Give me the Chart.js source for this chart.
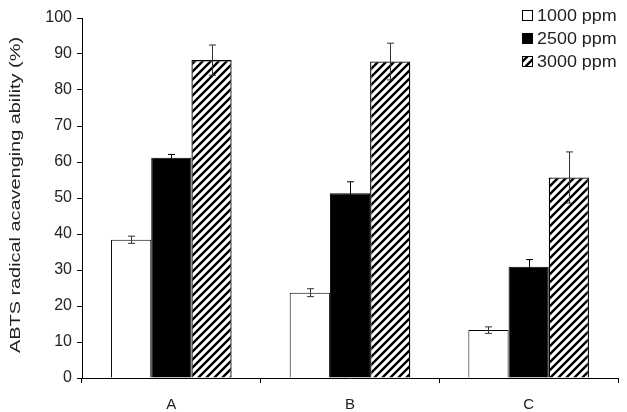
<!DOCTYPE html>
<html>
<head>
<meta charset="utf-8">
<script src="https://cdn.jsdelivr.net/npm/chart.js@4.4.0/dist/chart.umd.min.js"></script>
<style>
  html, body { margin: 0; padding: 0; background: #fff; }
  #wrap { width: 627px; height: 412px; }
</style>
</head>
<body>
<div id="wrap"><canvas id="abtsChart" width="627" height="412"></canvas></div>
<script>
// ========== DATA ==========
const categories = ['A', 'B', 'C'];
const seriesLabels = ['1000 ppm', '2500 ppm', '3000 ppm'];
const values1000 = [38.4, 23.7, 13.3];
const values2500 = [61.2, 51.3, 30.9];
const values3000 = [88.3, 87.9, 55.7];
const err1000 = [1.0, 1.1, 0.9];
const err2500 = [0.9, 3.2, 2.0];
const err3000 = [4.2, 5.1, 7.1];
const yTicks = [0, 10, 20, 30, 40, 50, 60, 70, 80, 90, 100];
const yTitle = 'ABTS radical acavenging ability (%)';

const FONT = '"Liberation Sans", Arial, sans-serif';

// hatch pattern for the 3000 ppm bars
function makeHatch() {
    const c = document.createElement('canvas');
    const s = 8;
    c.width = s; c.height = s;
    const g = c.getContext('2d');
    g.fillStyle = '#fff';
    g.fillRect(0, 0, s, s);
    g.strokeStyle = '#000';
    g.lineWidth = 2.4;
    g.beginPath();
    g.moveTo(-2, s + 2); g.lineTo(s + 2, -2);
    g.moveTo(-2, 2); g.lineTo(2, -2);
    g.moveTo(s - 2, s + 2); g.lineTo(s + 2, s - 2);
    g.stroke();
    return g.createPattern(c, 'repeat');
}
const hatch = makeHatch();

// ========== PLUGINS ==========
const errorBars = {
    id: 'errorBars',
    afterDatasetsDraw(chart) {
        const ctx = chart.ctx;
        const y = chart.scales.y;
        ctx.save();
        ctx.lineWidth = 1;
        chart.data.datasets.forEach((ds, i) => {
            const meta = chart.getDatasetMeta(i);
            meta.data.forEach((bar, j) => {
                const v = ds.data[j], e = ds.errors[j];
                const top = y.getPixelForValue(v + e);
                const bot = y.getPixelForValue(v - e);
                const x = Math.round(bar.x) + 0.5;
                ctx.strokeStyle = i === 1 ? '#000' : '#333';
                ctx.beginPath();
                ctx.moveTo(x, top); ctx.lineTo(x, bot);
                ctx.moveTo(x - 3.5, top); ctx.lineTo(x + 3.5, top);
                ctx.moveTo(x - 3.5, bot); ctx.lineTo(x + 3.5, bot);
                ctx.stroke();
            });
        });
        ctx.restore();
    }
};

// rotated y title, stretched along its length like the original
const yTitlePlugin = {
    id: 'yTitlePlugin',
    afterDraw(chart) {
        const ctx = chart.ctx;
        ctx.save();
        ctx.font = '14px ' + FONT;
        ctx.fillStyle = '#222';
        ctx.textAlign = 'center';
        ctx.textBaseline = 'middle';
        const w = ctx.measureText(yTitle).width;
        ctx.translate(16, 195);
        ctx.rotate(-Math.PI / 2);
        ctx.scale(316 / w, 1);
        ctx.fillText(yTitle, 0, 0);
        ctx.restore();
    }
};

const boxLegend = {
    id: 'boxLegend',
    afterDraw(chart) {
        const ctx = chart.ctx;
        ctx.save();
        ctx.font = '16px ' + FONT;
        ctx.textBaseline = 'middle';
        chart.data.datasets.forEach((ds, i) => {
            const yy = 16 + i * 23;
            const bx = 522.5;
            ctx.fillStyle = ds.backgroundColor;
            ctx.fillRect(bx, yy - 5.5, 10, 10);
            ctx.strokeStyle = '#000';
            ctx.lineWidth = 1;
            ctx.strokeRect(bx, yy - 5.5, 10, 10);
            ctx.fillStyle = '#222';
            ctx.save();
            ctx.translate(537, yy + 0.5);
            ctx.scale(1.12, 1);
            ctx.fillText(ds.label, 0, 0);
            ctx.restore();
        });
        ctx.restore();
    }
};

// ========== CHART ==========
const ctx1 = document.getElementById('abtsChart').getContext('2d');
const abtsChart = new Chart(ctx1, {
    type: 'bar',
    data: {
        labels: categories,
        datasets: [
            { label: seriesLabels[0], data: values1000, errors: err1000, backgroundColor: '#ffffff', borderColor: '#000', borderWidth: 1 },
            { label: seriesLabels[1], data: values2500, errors: err2500, backgroundColor: '#000000', borderColor: '#000', borderWidth: 1 },
            { label: seriesLabels[2], data: values3000, errors: err3000, backgroundColor: hatch, borderColor: '#000', borderWidth: 1.3 }
        ]
    },
    options: {
        responsive: false,
        animation: false,
        devicePixelRatio: 1,
        layout: { padding: { top: 18, right: 9, left: 0, bottom: 0 } },
        datasets: { bar: { categoryPercentage: 0.675, barPercentage: 1.0 } },
        plugins: { legend: { display: false }, tooltip: { enabled: false } },
        scales: {
            x: {
                grid: { display: true, drawOnChartArea: false, drawTicks: true, tickLength: 5, offset: true, color: '#000' },
                border: { display: true, color: '#000', width: 1 },
                ticks: { color: '#222', font: { family: FONT, size: 15 }, padding: 13 },
                afterFit: (s) => { s.height = 34; }
            },
            y: {
                min: 0, max: 100,
                afterBuildTicks: (s) => { s.ticks = yTicks.map(v => ({ value: v })); },
                grid: { display: true, drawOnChartArea: false, drawTicks: true, tickLength: 5, color: '#000' },
                border: { display: true, color: '#000', width: 1 },
                ticks: { color: '#222', font: { family: FONT, size: 16 }, padding: 5 },
                afterFit: (s) => { s.width = 82; }
            }
        }
    },
    plugins: [errorBars, yTitlePlugin, boxLegend]
});
</script>
</body>
</html>
